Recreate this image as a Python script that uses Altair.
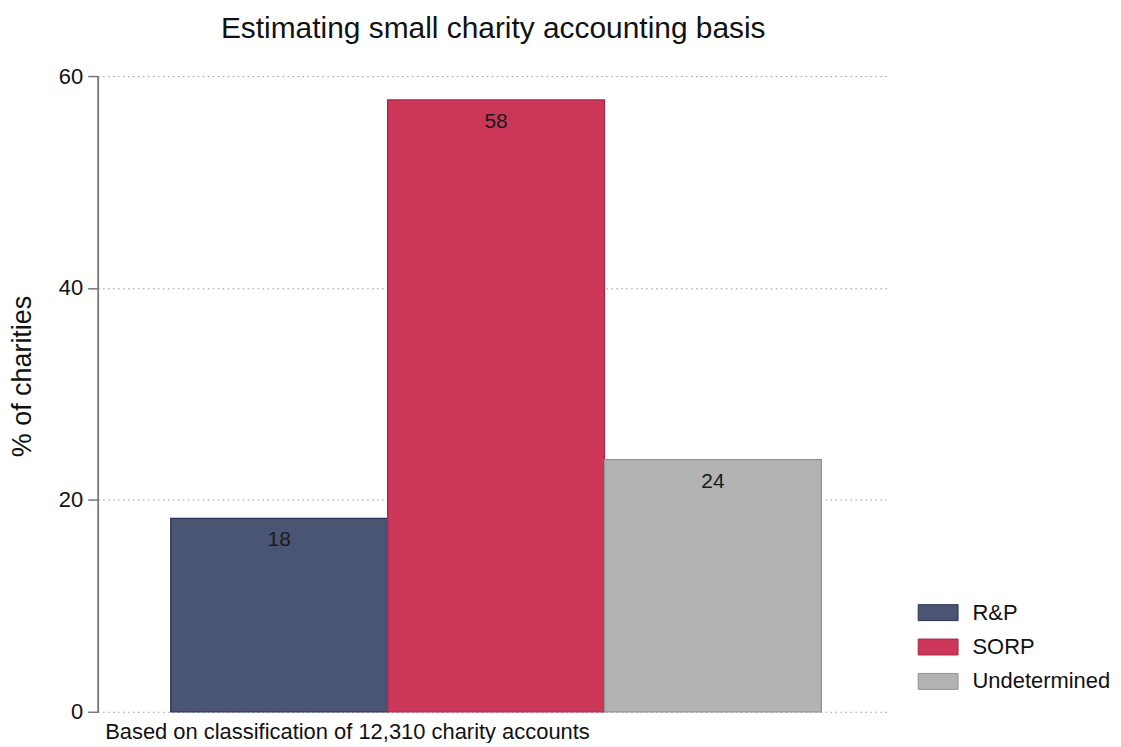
import altair as alt
import pandas as pd

categories = ["R&P", "SORP", "Undetermined"]
values = [18.25, 57.75, 23.8]
labels = ["18", "58", "24"]
colors = ["#4a5574", "#cc3659", "#b3b3b3"]
strokes = ["#2a3152", "#a82848", "#929292"]

df = pd.DataFrame({"cat": categories, "val": values, "lab": labels})

FONT = "Liberation Sans"
INK = "#111111"

x = alt.X("cat:N", sort=categories,
          scale=alt.Scale(paddingInner=0, paddingOuter=0.324, align=0.52),
          axis=alt.Axis(labels=False, ticks=False, domain=False, grid=False,
                        title="Based on classification of 12,310 charity accounts",
                        titleAnchor="start", titleAlign="left", titleBaseline="alphabetic",
                        titleX=7, titleY=27,
                        titleFontSize=22, titleFontWeight="normal", titleColor=INK,
                        titleFont=FONT))

bars = alt.Chart(df).mark_bar(strokeWidth=1.3).encode(
    x=x,
    y=alt.Y("val:Q", scale=alt.Scale(domain=[0, 60], nice=False),
            axis=alt.Axis(values=[0, 20, 40, 60], title="% of charities",
                          titleFontSize=27, titleFontWeight="normal", titleColor=INK,
                          titleFont=FONT, titleAngle=270, titleAlign="center",
                          titleBaseline="middle", titleX=-75, titleY=301,
                          labelFontSize=22, labelColor=INK, labelFont=FONT, labelPadding=5,
                          tickSize=10, tickColor="#777", tickWidth=1.5,
                          domainColor="#777", domainWidth=1.8,
                          grid=True, gridDash=[1.5, 3.5], gridColor="#999", gridWidth=1)),
    color=alt.Color("cat:N", sort=categories,
                    scale=alt.Scale(domain=categories, range=colors),
                    legend=alt.Legend(title=None, orient="none", legendX=826, legendY=521,
                                      symbolType="M-1.176,-0.47L1.176,-0.47L1.176,0.47L-1.176,0.47Z",
                                      symbolSize=1156, symbolStrokeWidth=1,
                                      labelFontSize=22, labelFont=FONT, labelColor=INK,
                                      labelOffset=17, rowPadding=5.5, padding=0)),
    stroke=alt.Stroke("cat:N", sort=categories,
                      scale=alt.Scale(domain=categories, range=strokes), legend=None),
)

text = alt.Chart(df).mark_text(dy=22, fontSize=21, font=FONT, color="#1a1a1a",
                               baseline="middle").encode(
    x=alt.X("cat:N", sort=categories),
    y=alt.Y("val:Q"),
    text="lab:N",
)

chart = (bars + text).properties(
    width=794, height=638,
    background="white",
    title=alt.TitleParams("Estimating small charity accounting basis", fontSize=30,
                          fontWeight="normal", font=FONT, color=INK, offset=21),
    autosize=alt.AutoSizeParams(type="none"),
    padding={"left": 90, "top": 67, "right": 225, "bottom": 30},
).configure_view(strokeWidth=0, stroke="transparent")

chart.save("out.html", embed_options={"renderer": "svg", "actions": False})
